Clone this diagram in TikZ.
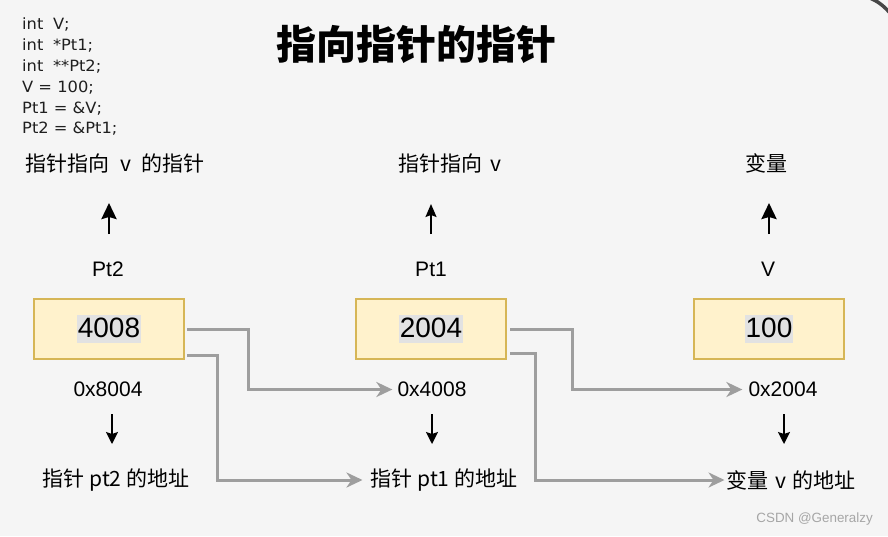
\documentclass[tikz,border=0pt]{standalone}
\usepackage{fontspec}
\setmainfont{Liberation Sans}
\newfontfamily\cjk{Noto Sans CJK SC}
\newfontfamily\codefont{DejaVu Sans}[FakeStretch=1.05]
\usetikzlibrary{arrows.meta}
\definecolor{bg}{HTML}{F5F5F5}
\definecolor{boxfill}{HTML}{FFF2CC}
\definecolor{boxline}{HTML}{D6B656}
\definecolor{hlgray}{HTML}{E2E2E2}
\definecolor{connc}{HTML}{9E9E9E}
\definecolor{wmc}{HTML}{A6A6A6}
\setlength{\fboxsep}{1pt}
\newcommand\hlnum[1]{\colorbox{hlgray}{\rule[-5pt]{0pt}{26pt}#1}}
\tikzset{
  code/.style={anchor=base west, inner sep=0pt, text=black!88, font=\codefont\fontsize{15.5}{18}\selectfont},
  titlenode/.style={inner sep=0pt, font=\cjk\bfseries\fontsize{40}{44}\selectfont},
  lbl/.style={inner sep=2pt, font=\fontsize{21}{25}\selectfont},
  cjklbl/.style={inner sep=2pt, font=\cjk\fontsize{21}{25}\selectfont},
  valbox/.style={draw=boxline, fill=boxfill, line width=2.6pt, minimum width=150pt,
    minimum height=60pt, inner sep=0pt, font=\fontsize{28}{32}\selectfont},
  conn/.style={draw=connc, line width=3pt,
    -{Stealth[length=16pt,width=15pt,inset=5pt]}},
  upthick/.style={line width=2.8pt, -{Stealth[length=16pt,width=15pt,inset=2pt]}},
  upthin/.style={line width=1.6pt, -{Stealth[length=13pt,width=11pt,inset=2pt]}},
  downarr/.style={line width=1.8pt, -{Stealth[length=12pt,width=12pt,inset=2pt]}},
}
\begin{document}
\begin{tikzpicture}[x=1pt,y=-1pt]
\fill[bg] (0,0) rectangle (888,536);
\useasboundingbox (0,0) rectangle (888,536);
% window corner
\draw[line width=3.5pt, color=black!72, line cap=round] (870,-2) .. controls (877,1) and (883,5) .. (890,13);

% code
\node[code] (c1) at (22,29) {int\hspace{0.62em}V;};
\node[code] (c2) at (22,50) {int\hspace{0.62em}*Pt1;};
\node[code] (c3) at (22,71) {int\hspace{0.62em}**Pt2;};
\node[code] (c4) at (22,92) {V = 100;};
\node[code] (c5) at (22,113) {Pt1 = \&V;};
\node[code] (c6) at (22,133) {Pt2 = \&Pt1;};

% title
\node[titlenode] (title) at (416,44) {指向指针的指针};

% row 1
\node[cjklbl] (t1) at (115,163) {指针指向\hspace{0.5em}v\hspace{0.5em}的指针};
\node[cjklbl] (t2) at (450,163) {指针指向\hspace{0.35em}v};
\node[cjklbl] (t3) at (766,163) {变量};

% row 2
\node[lbl] (p2) at (108,269) {Pt2};
\node[lbl] (p1) at (431,269) {Pt1};
\node[lbl] (pv) at (768,269) {V};

% up arrows
\coordinate (u1s) at (109,234); \coordinate (u1e) at (109,203);
\coordinate (u2s) at (431,234); \coordinate (u2e) at (431,204);
\coordinate (u3s) at (769,234); \coordinate (u3e) at (769,203);
\draw[upthick] (u1s) -- (u1e);
\draw[upthin] (u2s) -- (u2e);
\draw[upthick] (u3s) -- (u3e);

% boxes
\node[valbox] (b1) at (109,329) {\hlnum{4008}};
\node[valbox] (b2) at (431,329) {\hlnum{2004}};
\node[valbox] (b3) at (769,329) {\hlnum{100}};

% row 3
\node[lbl] (a1) at (108,389.5) {0x8004};
\node[lbl] (a2) at (432,389.5) {0x4008};
\node[lbl] (a3) at (783,389.5) {0x2004};

% down arrows
\coordinate (d1s) at (112,414); \coordinate (d1e) at (112,444);
\coordinate (d2s) at (432,414); \coordinate (d2e) at (432,444);
\coordinate (d3s) at (784,414); \coordinate (d3e) at (784,444);
\draw[downarr] (d1s) -- (d1e);
\draw[downarr] (d2s) -- (d2e);
\draw[downarr] (d3s) -- (d3e);

% row 4
\node[cjklbl] (e1) at (116,480) {指针 pt2 的地址};
\node[cjklbl] (e2) at (444,480) {指针 pt1 的地址};
\node[cjklbl] (e3) at (791,480) {变量\hspace{0.3em}v\hspace{0.3em}的地址};

% connectors
\draw[conn, shorten >=3pt] ([xshift=2pt]b1.east) -- ++(61,0) |- (a2.west);
\draw[conn, shorten >=6pt] ([xshift=2pt,yshift=-26pt]b1.east) -- ++(30,0) |- (e2.west);
\draw[conn, shorten >=4pt] ([xshift=3pt]b2.east) -- ++(62,0) |- (a3.west);
\draw[conn, shorten >=0pt] ([xshift=3pt,yshift=-24pt]b2.east) -- ++(25,0) |- (e3.west);

% watermark
\node[anchor=east, inner sep=0pt, text=wmc, font=\fontsize{13.4}{16}\selectfont] (wm) at (873,519) {CSDN @Generalzy};
\end{tikzpicture}
\end{document}
